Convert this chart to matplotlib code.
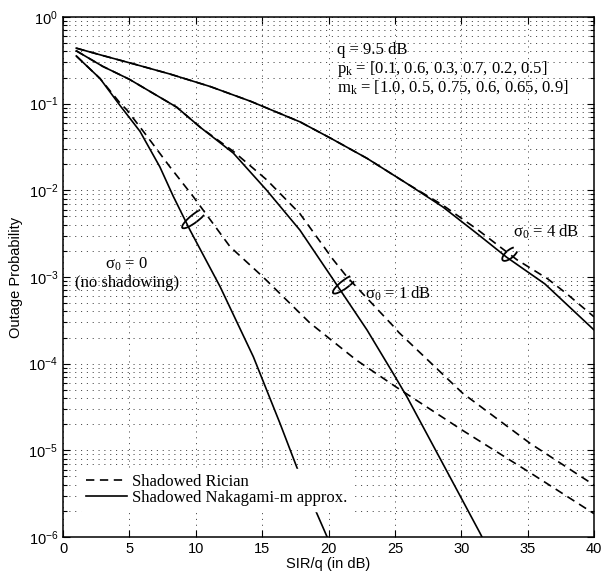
import math
import matplotlib
matplotlib.use("Agg")
import matplotlib.pyplot as plt
from matplotlib.patches import Arc
from matplotlib import transforms
from matplotlib.ticker import FuncFormatter

plt.rcParams["font.family"] = "Liberation Sans"
plt.rcParams["mathtext.fontset"] = "custom"
plt.rcParams["mathtext.rm"] = "Liberation Serif"
plt.rcParams["mathtext.it"] = "Liberation Serif:italic"
plt.rcParams["mathtext.bf"] = "Liberation Serif:bold"
plt.rcParams["mathtext.sf"] = "Liberation Sans"
plt.rcParams["lines.scale_dashes"] = False

# sigma0 = 0 (no shadowing)
x_s0_nak = [1, 2.79, 4.29, 5.8, 7.3, 8.31, 9.57, 11.83, 14.34, 16.35, 17.7, 20.1]
p_s0_nak = [0.355, 0.195, 0.0955, 0.0479, 0.0186, 8.51e-3, 3.47e-3, 7.76e-4, 1.2e-4, 2.04e-5, 5.89e-6, 8.5e-7]
x_s0_ric = [1, 2.79, 4.29, 4.8, 6.3, 8.06, 9.8, 12.58, 15.07, 18.6, 22.1, 25.1, 30.1, 35.2, 40]
p_s0_ric = [0.355, 0.195, 0.102, 0.0851, 0.0427, 0.0186, 8.51e-3, 2.24e-3, 1.0e-3, 2.95e-4, 1.1e-4, 5.37e-5, 1.7e-5, 5.5e-6, 1.86e-6]

# sigma0 = 1 dB
x_s1_nak = [1, 3, 5, 7, 8.56, 10.32, 12.83, 15.35, 17.85, 20.36, 22.9, 24.9, 25.9, 28.6, 31.4, 31.8]
p_s1_nak = [0.407, 0.269, 0.191, 0.126, 0.0912, 0.0537, 0.0269, 0.01, 3.47e-3, 9.33e-4, 2.45e-4, 7.59e-5, 4.17e-5, 7.08e-6, 1.12e-6, 8.5e-7]
x_s1_ric = [1, 3, 5, 7, 8.56, 10.32, 12.83, 15.35, 17.85, 20.36, 21.4, 24.9, 25.3, 30.1, 35.2, 40]
p_s1_ric = [0.407, 0.269, 0.191, 0.126, 0.0912, 0.0537, 0.0282, 0.0132, 5.37e-3, 1.58e-3, 1.0e-3, 2.69e-4, 2.29e-4, 4.57e-5, 1.2e-5, 3.98e-6]

# sigma0 = 4 dB
x_s4_nak = [1, 3, 5.3, 8, 11.07, 14.1, 17.85, 20.3, 22.9, 25.9, 28.6, 31.2, 33.4, 36.3, 40]
p_s4_nak = [0.437, 0.359, 0.288, 0.221, 0.158, 0.107, 0.0617, 0.0389, 0.0234, 0.012, 6.46e-3, 3.16e-3, 1.7e-3, 8.32e-4, 2.45e-4]
x_s4_ric = [1, 3, 5.3, 8, 11.07, 14.1, 17.85, 20.3, 22.9, 25.9, 28.6, 31.2, 32.9, 34.2, 36.5, 38, 40]
p_s4_ric = [0.437, 0.359, 0.288, 0.221, 0.158, 0.107, 0.0617, 0.0389, 0.0234, 0.012, 6.76e-3, 3.55e-3, 2.24e-3, 1.58e-3, 9.55e-4, 6.31e-4, 3.47e-4]

x_ticks = [0, 5, 10, 15, 20, 25, 30, 35, 40]

fig = plt.figure(figsize=(6.04, 5.73), dpi=100)
ax = fig.add_axes([63 / 604, 36 / 573, 531 / 604, 520 / 573])
ax.set_yscale("log")

dash = (0, (6, 4))
lw = 1.2
ax.plot(x_s0_ric, p_s0_ric, color="black", lw=lw, linestyle=dash, label="Shadowed Rician")
ax.plot(x_s0_nak, p_s0_nak, color="black", lw=lw, label="Shadowed Nakagami-m approx.")
ax.plot(x_s1_ric, p_s1_ric, color="black", lw=lw, linestyle=dash)
ax.plot(x_s1_nak, p_s1_nak, color="black", lw=lw)
ax.plot(x_s4_ric, p_s4_ric, color="black", lw=lw, linestyle=dash)
ax.plot(x_s4_nak, p_s4_nak, color="black", lw=lw)

ax.set_xlim(0, 40)
ax.set_ylim(1e-6, 1)
ax.set_xticks(x_ticks)
ax.yaxis.set_major_formatter(FuncFormatter(lambda v, pos: r"$\mathsf{10^{%d}}$" % round(math.log10(v))))
ax.tick_params(which="both", direction="in", top=True, right=True, labelsize=10.5, width=0.8)
ax.tick_params(which="major", length=5)
ax.tick_params(which="minor", length=3)
for s in ax.spines.values():
    s.set_linewidth(1.1)

grid_style = dict(color="0.3", linestyle=(0, (0.8, 3.4)), linewidth=0.7)
ax.grid(True, which="major", axis="both", **grid_style)
ax.grid(True, which="minor", axis="y", **grid_style)

ax.set_xlabel("SIR/q (in dB)", fontsize=10.5, labelpad=1)
ax.set_ylabel("Outage Probability", fontsize=10.5, labelpad=4)

serif = "Liberation Serif"
fs = 12
ax.text(20.64, 0.371, "q = 9.5 dB", family=serif, fontsize=fs, va="baseline")
ax.text(20.64, 0.224, r"p$_\mathrm{k}$ = [0.1, 0.6, 0.3, 0.7, 0.2, 0.5]", family=serif, fontsize=fs, va="baseline")
ax.text(20.64, 0.137, r"m$_\mathrm{k}$ = [1.0, 0.5, 0.75, 0.6, 0.65, 0.9]", family=serif, fontsize=fs, va="baseline")
ax.text(33.88, 2.92e-3, r"σ$_\mathrm{0}$ = 4 dB", family=serif, fontsize=fs, va="baseline")
ax.text(22.75, 5.68e-4, r"σ$_\mathrm{0}$ = 1 dB", family=serif, fontsize=fs, va="baseline")
ax.text(3.2, 1.26e-3, r"σ$_\mathrm{0}$ = 0", family=serif, fontsize=fs, va="baseline")
ax.text(0.9, 7.67e-4, "(no shadowing)", family=serif, fontsize=fs, va="baseline")

# little ellipses grouping each pair of curves
def group_mark(x, y, length, angle):
    trans = fig.dpi_scale_trans + transforms.ScaledTranslation(x, y, ax.transData)
    arc = Arc((0, 0), length / 100, 0.08, angle=angle, theta1=20, theta2=340,
              transform=trans, color="black", lw=1.3)
    ax.add_patch(arc)

group_mark(9.94, 4.8e-3, 32, 38)
group_mark(21.25, 8.3e-4, 30, 37)
group_mark(33.67, 1.84e-3, 19, 40)

leg = ax.legend(loc="lower left", bbox_to_anchor=(0.033, 0.05), borderaxespad=0,
                prop={"family": serif, "size": fs}, frameon=True, fancybox=False,
                framealpha=1, facecolor="white", edgecolor="white",
                handlelength=2.5, handletextpad=0.3, labelspacing=0.0, borderpad=0.3)

fig.savefig("out.png", dpi=100)
